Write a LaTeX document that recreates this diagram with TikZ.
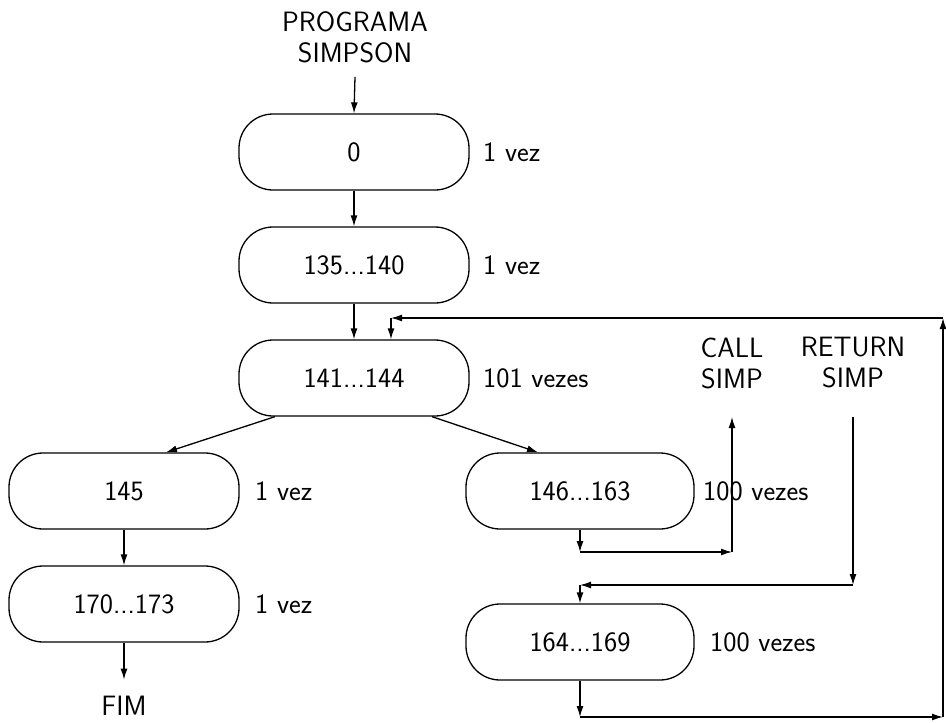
\documentclass[tikz,border=0pt]{standalone}
\usepackage{fontspec}
\usetikzlibrary{arrows.meta}
\begin{document}
\begin{tikzpicture}[x=1pt,y=-1pt,
  every node/.style={font=\sffamily\fontsize{28}{31}\selectfont},
  block/.style={draw, line width=1.3pt, rounded corners=34pt,
    minimum width=230pt, minimum height=76pt, inner sep=0pt},
  count/.style={anchor=west, inner sep=0pt},
  caption/.style={align=center, inner sep=0pt},
  arr/.style={line width=1.3pt, -{Latex[length=11pt,width=7pt]}}]
\useasboundingbox (0,0) rectangle (946,723);

% blocks of the program
\node[caption] (title) at (355,37) {PROGRAMA\\SIMPSON};
\node[block] (b0) at (354,152) {0};
\node[block] (b1) at (354,265) {135...140};
\node[block] (b2) at (354,378) {141...144};
\node[block] (b3) at (124,491) {145};
\node[block, minimum width=228pt] (b4) at (580,491) {146...163};
\node[block] (b5) at (124,604) {170...173};
\node[block, minimum width=228pt] (b6) at (580,642) {164...169};
\node[inner sep=0pt] (fim) at (124,706) {FIM};

% execution counts
\node[count] (n0) at (483,152) {1 vez};
\node[count] (n1) at (483,265) {1 vez};
\node[count] (n2) at (483,378) {101 vezes};
\node[count] (n3) at (255,491) {1 vez};
\node[count] (n4) at (703,491) {100 vezes};
\node[count] (n5) at (255,604) {1 vez};
\node[count] (n6) at (710,642) {100 vezes};

% subroutine call and return
\node[caption] (call) at (732,363) {CALL\\SIMP};
\node[caption] (ret) at (853,363) {RETURN\\SIMP};

% corner points of the routed connectors
\coordinate (c1) at (580,552);
\coordinate (c2) at (732,552);
\coordinate (c3) at (732,417);
\coordinate (r0) at (853,417);
\coordinate (r1) at (853,585);
\coordinate (r2) at (580,585);
\coordinate (l1) at (580,717);
\coordinate (l2) at (943,717);
\coordinate (l3) at (943,318);
\coordinate (l4) at (391,318);

% main flow
\draw[arr] ([yshift=-14pt]title.south) -- (b0.north);
\draw[arr] (b0.south) -- (b1.north);
\draw[arr] (b1.south) -- (b2.north);
\draw[arr] ([xshift=-79pt]b2.south) -- ([xshift=42pt]b3.north);
\draw[arr] ([xshift=78pt]b2.south) -- ([xshift=-42pt]b4.north);
\draw[arr] (b3.south) -- (b5.north);
\draw[arr] (b5.south) -- ([yshift=-37pt]b5.south);

% call path
\draw[arr] (b4.south) -- (c1);
\draw[arr] (c1) -- (c2);
\draw[arr] (c2) -- (c3);

% return path
\draw[arr] (r0) -- (r1);
\draw[arr] (r1) -- (r2);
\draw[arr] (r2) -- (b6.north);

% loop back to 141...144
\draw[arr] (b6.south) -- (l1);
\draw[arr] (l1) -- (l2);
\draw[arr] (l2) -- (l3);
\draw[arr] (l3) -- (l4);
\draw[arr] (l4) -- ([xshift=37pt]b2.north);
\end{tikzpicture}
\end{document}
